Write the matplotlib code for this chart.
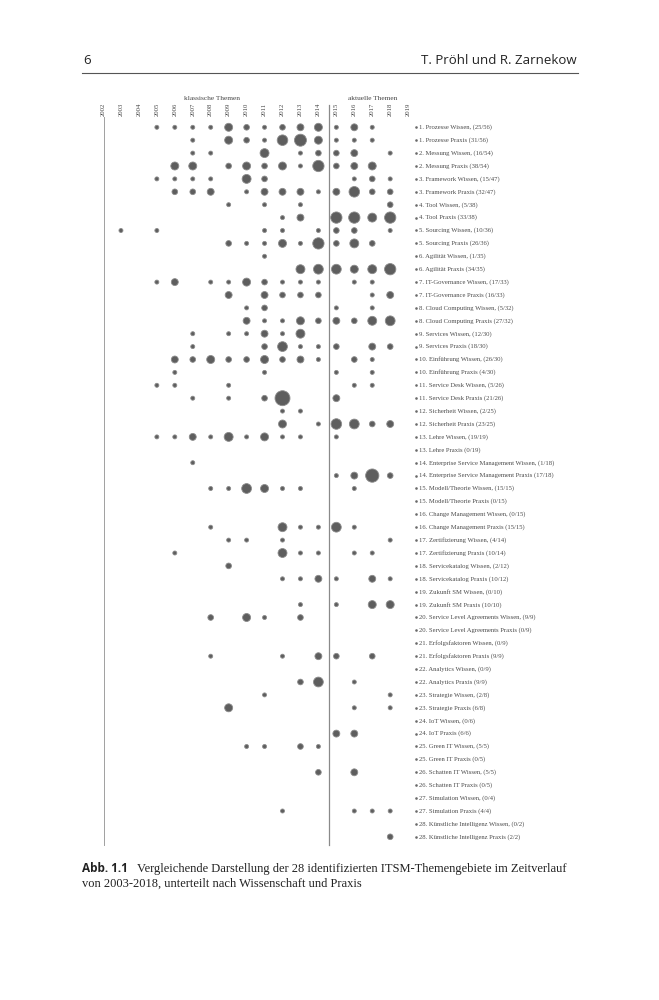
import numpy as np
import matplotlib.pyplot as plt

years = [2002, 2003, 2004, 2005, 2006, 2007, 2008, 2009, 2010,
         2011, 2012, 2013, 2014, 2015, 2016, 2017, 2018, 2019]

topics = ["Prozesse", "Messung", "Framework", "Tool", "Sourcing", "Agilität",
          "IT-Governance", "Cloud Computing", "Services", "Einführung",
          "Service Desk", "Sicherheit", "Lehre", "Enterprise Service Management",
          "Modell/Theorie", "Change Management", "Zertifizierung", "Servicekatalog",
          "Zukunft SM", "Service Level Agreements", "Erfolgsfaktoren", "Analytics",
          "Strategie", "IoT", "Green IT", "Schatten IT", "Simulation",
          "Künstliche Intelligenz"]

wissen_n = [25, 16, 15, 5, 10, 1, 17, 5, 12, 26, 5, 2, 19, 1,
            15, 0, 4, 2, 0, 9, 0, 0, 2, 0, 5, 5, 0, 0]
praxis_n = [31, 38, 32, 33, 26, 34, 16, 27, 18, 4, 21, 23, 0, 17,
            0, 15, 10, 10, 10, 0, 9, 9, 6, 6, 0, 0, 4, 2]
totals = [56, 54, 47, 38, 36, 35, 33, 32, 30, 30, 26, 25, 19, 18,
          15, 15, 14, 12, 10, 9, 9, 9, 8, 6, 5, 5, 4, 2]

# publications per year (year: count), one dict per topic
wissen_points = [
    {2005: 1, 2006: 1, 2007: 1, 2008: 1, 2009: 4, 2010: 2, 2011: 1, 2012: 2, 2013: 3, 2014: 4, 2015: 1, 2016: 3, 2017: 1},
    {2007: 1, 2008: 1, 2011: 5, 2013: 1, 2014: 2, 2015: 2, 2016: 3, 2018: 1},
    {2005: 1, 2006: 1, 2007: 1, 2008: 1, 2010: 5, 2011: 2, 2016: 1, 2017: 2, 2018: 1},
    {2009: 1, 2011: 1, 2013: 1, 2018: 2},
    {2003: 1, 2005: 1, 2011: 1, 2012: 1, 2014: 1, 2015: 2, 2016: 2, 2018: 1},
    {2011: 1},
    {2005: 1, 2006: 3, 2008: 1, 2009: 1, 2010: 4, 2011: 2, 2012: 1, 2013: 1, 2014: 1, 2016: 1, 2017: 1},
    {2010: 1, 2011: 2, 2015: 1, 2017: 1},
    {2007: 1, 2009: 1, 2010: 1, 2011: 3, 2012: 1, 2013: 5},
    {2006: 3, 2007: 2, 2008: 4, 2009: 2, 2010: 2, 2011: 4, 2012: 2, 2013: 3, 2014: 1, 2016: 2, 2017: 1},
    {2005: 1, 2006: 1, 2009: 1, 2016: 1, 2017: 1},
    {2012: 1, 2013: 1},
    {2005: 1, 2006: 1, 2007: 3, 2008: 1, 2009: 5, 2010: 1, 2011: 4, 2012: 1, 2013: 1, 2015: 1},
    {2007: 1},
    {2008: 1, 2009: 1, 2010: 6, 2011: 4, 2012: 1, 2013: 1, 2016: 1},
    {},
    {2009: 1, 2010: 1, 2012: 1, 2018: 1},
    {2009: 2},
    {},
    {2008: 2, 2010: 4, 2011: 1, 2013: 2},
    {},
    {},
    {2011: 1, 2018: 1},
    {},
    {2010: 1, 2011: 1, 2013: 2, 2014: 1},
    {2014: 2, 2016: 3},
    {},
    {},
]

praxis_points = [
    {2007: 1, 2009: 4, 2010: 2, 2011: 1, 2012: 7, 2013: 9, 2014: 4, 2015: 1, 2016: 1, 2017: 1},
    {2006: 4, 2007: 4, 2009: 2, 2010: 4, 2011: 2, 2012: 4, 2013: 1, 2014: 8, 2015: 2, 2016: 3, 2017: 4},
    {2006: 2, 2007: 2, 2008: 3, 2010: 1, 2011: 3, 2012: 3, 2013: 3, 2014: 1, 2015: 3, 2016: 7, 2017: 2, 2018: 2},
    {2012: 1, 2013: 3, 2015: 8, 2016: 8, 2017: 5, 2018: 8},
    {2009: 2, 2010: 1, 2011: 1, 2012: 4, 2013: 1, 2014: 8, 2015: 2, 2016: 5, 2017: 2},
    {2013: 5, 2014: 6, 2015: 6, 2016: 4, 2017: 5, 2018: 8},
    {2009: 3, 2011: 3, 2012: 2, 2013: 2, 2014: 2, 2017: 1, 2018: 3},
    {2010: 3, 2011: 1, 2012: 1, 2013: 4, 2014: 2, 2015: 3, 2016: 2, 2017: 5, 2018: 6},
    {2007: 1, 2011: 2, 2012: 6, 2013: 1, 2014: 1, 2015: 2, 2017: 3, 2018: 2},
    {2006: 1, 2011: 1, 2015: 1, 2017: 1},
    {2007: 1, 2009: 1, 2011: 2, 2012: 14, 2015: 3},
    {2012: 4, 2014: 1, 2015: 7, 2016: 6, 2017: 2, 2018: 3},
    {},
    {2015: 1, 2016: 3, 2017: 11, 2018: 2},
    {},
    {2008: 1, 2012: 5, 2013: 1, 2014: 1, 2015: 6, 2016: 1},
    {2006: 1, 2012: 5, 2013: 1, 2014: 1, 2016: 1, 2017: 1},
    {2012: 1, 2013: 1, 2014: 3, 2015: 1, 2017: 3, 2018: 1},
    {2013: 1, 2015: 1, 2017: 4, 2018: 4},
    {},
    {2008: 1, 2012: 1, 2014: 3, 2015: 2, 2017: 2},
    {2013: 2, 2014: 6, 2016: 1},
    {2009: 4, 2016: 1, 2018: 1},
    {2015: 3, 2016: 3},
    {},
    {},
    {2012: 1, 2016: 1, 2017: 1, 2018: 1},
    {2018: 2},
]

SERIF = "Liberation Serif"
DOT_FACE = "#5e5e5e"
DOT_EDGE = "#8c8c8c"
LINE_GREY = "#a0a0a0"

# layout in pixels of the 659x1000 page
W, H = 659, 1000
x0_px, year_px = 103.0, 17.95       # position of 2002 and pixels per year
y0_px, row_px = 127.3, 12.9         # position of first row and pixels per row
xlim = (2001.5, 2019.7)
ylim = (57.0, -1.5)

left_px = x0_px + (xlim[0] - years[0]) * year_px
right_px = x0_px + (xlim[1] - years[0]) * year_px
top_px = y0_px + (ylim[1] - 1) * row_px
bottom_px = y0_px + (ylim[0] - 1) * row_px

fig = plt.figure(figsize=(W / 100, H / 100), dpi=100)
ax = fig.add_axes([left_px / W, 1 - bottom_px / H,
                   (right_px - left_px) / W, (bottom_px - top_px) / H])
ax.set_xlim(*xlim)
ax.set_ylim(*ylim)
ax.axis("off")

# build rows: Wissen / Praxis alternating
labels = []
xs, ys, counts = [], [], []
for i, topic in enumerate(topics):
    for j, (pts, kind, n) in enumerate([(wissen_points[i], "Wissen,", wissen_n[i]),
                                         (praxis_points[i], "Praxis", praxis_n[i])]):
        row = 2 * i + j + 1
        labels.append((row, f"{i + 1}. {topic} {kind} ({n}/{totals[i]})"))
        for yr, c in pts.items():
            xs.append(yr)
            ys.append(row)
            counts.append(c)

xs = np.array(xs)
ys = np.array(ys)
counts = np.array(counts)
sizes = (4.0 * 0.72) ** 2 * counts   # area proportional to count

ax.scatter(xs, ys, s=sizes, facecolor=DOT_FACE, edgecolor=DOT_EDGE,
           linewidth=0.6, zorder=3)

# left axis line and separator klassische / aktuelle Themen
ax.plot([2002.05, 2002.05], [0.2, 56.6], color=LINE_GREY, linewidth=0.7,
        clip_on=False)
ax.plot([2014.6, 2014.6], [-0.75, 56.6], color="#8a8a8a", linewidth=0.9,
        clip_on=False)

# year labels
for yr in years:
    ax.text(yr, 0.15, str(yr), rotation=90, ha="center", va="bottom",
            fontsize=4.8, family=SERIF, color="#444444")

ax.text(2008.05, -1.27, "klassische Themen", ha="center", va="center",
        fontsize=5.3, family=SERIF, color="#444444")
ax.text(2017.0, -1.27, "aktuelle Themen", ha="center", va="center",
        fontsize=5.3, family=SERIF, color="#444444")

# legend entries
rows = [r for r, _ in labels]
ax.scatter([2019.41] * len(rows), rows, s=3.5, color="#6a6a6a",
           linewidth=0, clip_on=False)
for row, text in labels:
    ax.text(2019.58, row, text, ha="left", va="center", fontsize=4.8,
            family=SERIF, color="#4a4a4a", clip_on=False)

# page header
fig.text(83 / W, 1 - 60 / H, "6", ha="left", va="center",
         fontsize=9.5, family="Open Sans", color="#222222")
fig.text(577 / W, 1 - 60 / H, "T. Pröhl und R. Zarnekow", ha="right",
         va="center", fontsize=9.5, family="Open Sans", color="#222222")
fig.add_artist(plt.Line2D([82 / W, 578 / W], [1 - 73 / H, 1 - 73 / H],
                          color="#555555", linewidth=0.8))

# caption
fig.text(81.7 / W, 1 - 869 / H, "Abb. 1.1", ha="left", va="center",
         fontsize=8.5, family="Open Sans", weight="bold", color="#222222")
fig.text(137.3 / W, 1 - 869 / H,
         "Vergleichende Darstellung der 28 identifizierten ITSM-Themengebiete im Zeitverlauf",
         ha="left", va="center", fontsize=9, family=SERIF, color="#222222")
fig.text(81.7 / W, 1 - 883.5 / H,
         "von 2003-2018, unterteilt nach Wissenschaft und Praxis",
         ha="left", va="center", fontsize=9, family=SERIF, color="#222222")

fig.savefig("out.png", dpi=100)
